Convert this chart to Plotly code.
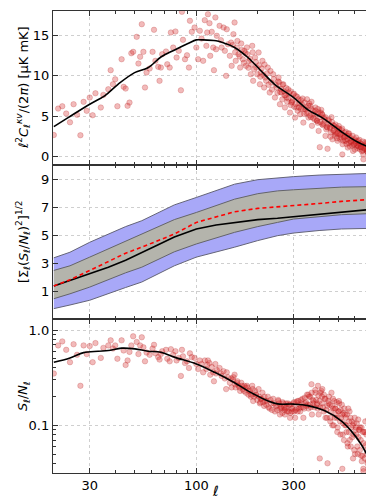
import plotly.graph_objects as go
from plotly.subplots import make_subplots

# multipoles of the scattered points (shared by top and bottom panel)
ell_pts = [20, 21, 22, 23, 24, 25, 26, 27, 28, 29, 30, 31, 32, 34, 35, 37, 38, 39, 40, 41,
           43, 44, 45, 46, 47, 48, 49, 51, 52, 53, 54, 55, 56, 57, 59, 61, 62, 63, 65, 66,
           67, 68, 71, 72, 74, 75, 77, 79, 80, 82, 84, 85, 86, 88, 90, 92, 93, 95, 98, 100,
           102, 104, 106, 108, 110, 112, 113, 114, 116, 117, 119, 121, 122, 124, 125, 126, 130, 132, 133, 136,
           138, 140, 141, 143, 146, 148, 149, 152, 154, 156, 158, 161, 164, 166, 169, 172, 175, 178, 181, 185,
           188, 190, 194, 197, 202, 205, 207, 211, 215, 218, 224, 229, 233, 238, 243, 248, 253, 257, 262, 267,
           272, 277, 282, 288, 293, 299, 305, 311, 317, 323, 329, 335, 342, 349, 355, 362, 369, 376, 384, 391,
           398, 406, 414, 422, 430, 439, 447, 456, 465, 474, 483, 493, 502, 512, 522, 532, 543, 553, 564, 575,
           587, 598, 610, 622, 634, 646, 659, 672, 685, 698, 712, 726, 740, 745, 748, 752,
           151, 155, 159, 163, 167, 171, 174, 177, 180, 183, 186, 189, 192, 196, 199, 203, 206, 209, 213, 216,
           220, 222, 226, 231, 235, 240, 245, 250, 255, 260, 264, 269, 274, 279, 285, 290, 296, 302, 308, 314,
           320, 326, 332, 338, 345, 352, 358, 365, 372, 380, 387, 394, 402, 410, 418, 426, 434, 443, 452, 460,
           470, 478, 488, 497, 507, 517, 527, 537, 548, 559, 570, 581, 592, 604, 616, 628, 640, 653, 665, 678,
           691, 705, 719, 733, 744, 750, 403, 440, 520, 660, 367, 395, 415,
           455, 468, 480, 490, 500, 510, 525, 535, 545, 556, 566, 578, 590, 600, 612, 624, 636, 648, 661, 674,
           688, 700, 710, 722, 736, 747, 751,
           252, 258, 265, 271, 276, 283, 289, 295, 301, 307, 313, 319, 326, 333, 340, 347, 354, 361, 368, 375,
           383, 390, 397, 405, 413, 421, 429, 437, 445, 454, 463, 472, 481, 491, 500, 509, 519, 530, 540, 551,
           561, 572, 584, 595, 607, 619, 631, 643, 656, 669, 682, 695, 708, 722, 738]

cl_pts = [2.7, 5.96, 6.25, 5.35, 4.27, 6.5, 5.19, 2.67, 6.79, 5.68, 7.32, 5.14, 7.85, 6.09, 7.65, 8.35, 10.7, 8.96, 9.58, 6.25,
          12.05, 8.64, 8.43, 6.3, 6.7, 12.79, 12.96, 14.81, 11.52, 12.35, 16.37, 12.96, 8.56, 10.41, 10.9, 12.96, 15.68, 11.85, 11.11, 9.38,
          11.02, 12.67, 13.0, 11.43, 11.02, 15.35, 13.49, 15.47, 12.26, 13.09, 8.22, 17.9, 14.44, 12.05, 12.54, 11.02, 16.79, 15.43, 15.96, 13.49,
          12.05, 15.56, 14.6, 11.85, 16.87, 13.7, 15.35, 17.6, 16.5, 12.47, 15.43, 13.49, 10.7, 17.2, 13.28, 14.94, 16.17, 14.4, 13.49, 15.96,
          13.09, 10.0, 15.75, 13.9, 12.47, 14.1, 11.23, 15.14, 16.58, 11.85, 13.49, 12.67, 11.02, 13.99, 12.05, 13.09, 11.23, 12.67, 11.85, 10.2,
          13.7, 9.38, 12.26, 11.02, 12.88, 8.96, 10.41, 11.85, 8.56, 9.79, 11.02, 7.94, 9.17, 10.2, 7.32, 8.56, 9.79, 6.5, 7.94, 8.96,
          6.09, 7.32, 8.35, 5.47, 6.7, 7.73, 4.85, 6.09, 7.11, 5.26, 6.5, 4.23, 5.88, 7.11, 4.85, 6.3, 3.83, 5.26, 6.09, 4.44,
          3.21, 5.47, 4.03, 4.85, 2.59, 3.62, 4.44, 3.0, 2.17, 3.83, 2.79, 1.98, 3.41, 2.38, 1.56, 3.0, 1.98, 1.15, 2.59, 1.77,
          0.74, 2.17, 1.36, 1.98, 0.94, 1.56, 0.32, 1.36, 0.74, 1.77, -0.09, 1.15, 0.53, 1.56, 0.32, 0.94,
          13.8, 12.9, 14.3, 12.4, 13.2, 11.6, 12.8, 13.5, 11.0, 12.1, 11.4, 12.9, 10.8, 11.7, 10.2, 11.3, 9.9, 10.9, 10.1, 11.4,
          9.4, 10.3, 8.9, 10.6, 8.3, 9.6, 8.9, 7.9, 9.2, 8.4, 7.1, 8.1, 7.6, 6.8, 7.9, 6.4, 7.0, 6.2, 7.5, 5.7,
          6.6, 5.9, 7.2, 5.3, 6.1, 5.5, 6.6, 4.9, 5.7, 4.6, 5.3, 4.2, 4.9, 5.8, 3.9, 4.6, 3.4, 4.1, 3.7, 4.9,
          3.2, 2.6, 3.6, 2.9, 2.2, 3.3, 2.7, 2.0, 2.6, 1.7, 2.3, 1.4, 2.0, 1.7, 1.1, 1.6, 1.2, 0.8, 1.4, 1.0,
          0.6, 1.2, 0.9, 1.3, 0.7, 1.1, 1.2, 1.0, 0.3, -0.3, 6.8, 5.9, 5.2,
          2.5, 3.9, 3.0, 2.3, 3.5, 2.8, 2.0, 2.5, 1.6, 2.9, 1.3, 2.0, 1.5, 0.9, 1.9, 1.3, 1.7, 0.7, 1.1, 1.8,
          0.9, 0.4, 1.5, 0.6, 1.0, 1.9, 0.2,
          9.3, 8.0, 8.9, 7.6, 8.5, 7.2, 8.1, 6.8, 7.8, 6.5, 7.4, 6.1, 7.0, 5.9, 6.7, 5.4, 6.3, 5.1, 5.9, 4.8,
          5.7, 4.5, 5.5, 4.3, 5.3, 4.1, 4.9, 3.7, 4.6, 3.5, 4.3, 3.3, 4.0, 2.9, 3.8, 2.7, 3.5, 2.4, 3.1, 2.2,
          2.9, 1.9, 2.6, 1.6, 2.4, 1.4, 2.1, 1.2, 1.9, 1.0, 1.7, 0.8, 1.6, 0.7, 1.4]

sn_pts = [0.35, 0.69, 0.76, 0.62, 0.46, 0.71, 0.55, 0.26, 0.69, 0.56, 0.68, 0.46, 0.73, 0.51, 0.65, 0.69, 0.78, 0.64, 0.69, 0.50,
          0.78, 0.61, 0.43, 0.48, 0.59, 0.69, 0.86, 0.75, 0.56, 0.69, 0.84, 0.66, 0.47, 0.58, 0.55, 0.64, 0.70, 0.57, 0.52, 0.49,
          0.56, 0.60, 0.62, 0.50, 0.47, 0.63, 0.55, 0.60, 0.48, 0.51, 0.33, 0.62, 0.53, 0.45, 0.47, 0.40, 0.57, 0.52, 0.51, 0.44,
          0.39, 0.48, 0.44, 0.36, 0.48, 0.39, 0.43, 0.48, 0.45, 0.34, 0.41, 0.36, 0.29, 0.44, 0.35, 0.38, 0.40, 0.35, 0.33, 0.37,
          0.31, 0.24, 0.36, 0.32, 0.28, 0.31, 0.25, 0.32, 0.34, 0.25, 0.28, 0.26, 0.23, 0.28, 0.24, 0.26, 0.22, 0.25, 0.23, 0.20,
          0.26, 0.18, 0.23, 0.21, 0.24, 0.17, 0.19, 0.22, 0.16, 0.18, 0.20, 0.15, 0.17, 0.19, 0.14, 0.16, 0.18, 0.13, 0.15, 0.17,
          0.13, 0.15, 0.17, 0.12, 0.15, 0.17, 0.12, 0.15, 0.18, 0.14, 0.17, 0.12, 0.17, 0.21, 0.15, 0.20, 0.13, 0.18, 0.22, 0.17,
          0.13, 0.22, 0.17, 0.21, 0.12, 0.16, 0.20, 0.14, 0.10, 0.18, 0.13, 0.095, 0.17, 0.12, 0.08, 0.15, 0.10, 0.06, 0.14, 0.095,
          0.045, 0.12, 0.08, 0.115, 0.055, 0.095, 0.035, 0.085, 0.05, 0.115, 0.033, 0.075, 0.042, 0.10, 0.034, 0.065,
          0.30, 0.27, 0.29, 0.25, 0.26, 0.23, 0.25, 0.26, 0.21, 0.23, 0.21, 0.24, 0.20, 0.21, 0.185, 0.20, 0.175, 0.19, 0.175, 0.20,
          0.165, 0.18, 0.155, 0.185, 0.145, 0.17, 0.16, 0.145, 0.17, 0.155, 0.135, 0.155, 0.15, 0.14, 0.165, 0.135, 0.15, 0.14, 0.175, 0.14,
          0.165, 0.155, 0.19, 0.15, 0.175, 0.165, 0.20, 0.155, 0.185, 0.155, 0.185, 0.15, 0.18, 0.23, 0.155, 0.19, 0.145, 0.18, 0.165, 0.22,
          0.15, 0.12, 0.175, 0.14, 0.11, 0.165, 0.135, 0.10, 0.13, 0.085, 0.12, 0.075, 0.105, 0.09, 0.06, 0.09, 0.07, 0.048, 0.085, 0.062,
          0.04, 0.08, 0.06, 0.09, 0.05, 0.075, 0.045, 0.04, 0.035, 0.033, 0.27, 0.26, 0.24,
          0.12, 0.19, 0.15, 0.12, 0.18, 0.145, 0.105, 0.13, 0.085, 0.15, 0.07, 0.11, 0.08, 0.05, 0.105, 0.075, 0.095, 0.042, 0.065, 0.11,
          0.055, 0.036, 0.09, 0.04, 0.062, 0.12, 0.034,
          0.185, 0.15, 0.175, 0.145, 0.17, 0.14, 0.165, 0.14, 0.175, 0.145, 0.18, 0.15, 0.185, 0.155, 0.195, 0.16, 0.21, 0.165, 0.22, 0.17,
          0.235, 0.165, 0.205, 0.155, 0.2, 0.14, 0.19, 0.12, 0.17, 0.11, 0.16, 0.10, 0.15, 0.085, 0.14, 0.08, 0.13, 0.07, 0.12, 0.065,
          0.11, 0.06, 0.10, 0.055, 0.095, 0.05, 0.09, 0.048, 0.085, 0.045, 0.08, 0.042, 0.075, 0.04, 0.07]

# smooth curves
ell_cl = [20, 23.5, 30, 35.5, 41.3, 49.8, 57.9, 67.3, 78.3, 91, 100, 106, 125, 138, 154, 179, 208, 242, 300, 353, 410, 450, 515, 621, 750]
cl_line = [3.74, 4.85, 6.5, 7.53, 8.96, 10.4, 11.0, 12.35, 13.2, 13.99, 14.44, 14.44, 14.32, 14.0, 13.5, 12.26, 10.6, 8.96, 7.32, 5.8, 4.9, 4.2, 3.1, 1.8, 0.94]

ell_sn = [20, 24, 28, 33, 37, 43, 50, 58, 67, 78, 100, 123, 154, 179, 225, 250, 300, 353, 427, 515, 576, 644, 735]
sn_line = [0.46, 0.51, 0.58, 0.6, 0.61, 0.646, 0.635, 0.6, 0.586, 0.52, 0.44, 0.36, 0.28, 0.23, 0.18, 0.168, 0.167, 0.161, 0.142, 0.111, 0.087, 0.063, 0.037]

# cumulative S/N, bands and curves
ell_cum = [20, 24, 30, 37, 45, 54, 65, 78, 100, 125, 154, 200, 250, 300, 400, 515, 750]
blue_hi = [3.37, 3.77, 4.48, 5.07, 5.6, 6.02, 6.6, 7.15, 7.68, 8.2, 8.63, 8.95, 9.1, 9.17, 9.28, 9.34, 9.41]
gray_hi = [2.47, 2.8, 3.42, 4.0, 4.55, 5.07, 5.6, 6.1, 6.61, 7.1, 7.56, 7.95, 8.15, 8.23, 8.35, 8.42, 8.46]
cum_black = [1.36, 1.75, 2.23, 2.7, 3.2, 3.77, 4.3, 4.85, 5.43, 5.72, 5.9, 6.1, 6.2, 6.31, 6.5, 6.66, 6.85]
cum_red = [1.36, 1.8, 2.47, 3.1, 3.7, 4.13, 4.6, 5.07, 5.9, 6.3, 6.66, 6.9, 7.0, 7.09, 7.25, 7.4, 7.56]
gray_lo = [0.45, 0.8, 1.28, 1.8, 2.3, 2.7, 3.25, 3.8, 4.36, 4.8, 5.19, 5.6, 5.9, 6.14, 6.32, 6.45, 6.54]
blue_lo = [-0.26, 0.0, 0.34, 0.8, 1.25, 1.64, 2.2, 2.8, 3.42, 3.8, 4.13, 4.6, 4.95, 5.14, 5.32, 5.43, 5.48]

x_ticks = [30, 100, 300]
x_minor = [20, 40, 50, 60, 70, 80, 90, 200, 400, 500, 600, 700]

fig = make_subplots(rows=3, cols=1, shared_xaxes=True, vertical_spacing=0)

pt_marker = dict(size=5.5, color='rgba(214,40,40,0.32)', line=dict(color='rgba(170,20,20,0.35)', width=0.6))

# top panel
fig.add_trace(go.Scatter(x=ell_pts, y=cl_pts, mode='markers', marker=pt_marker), row=1, col=1)
fig.add_trace(go.Scatter(x=ell_cl, y=cl_line, mode='lines', line=dict(color='black', width=1.6, shape='spline')), row=1, col=1)

# middle panel
fig.add_trace(go.Scatter(x=ell_cum + ell_cum[::-1], y=blue_hi + blue_lo[::-1], fill='toself',
                         fillcolor='rgb(168,168,248)', mode='lines',
                         line=dict(color='rgb(100,100,120)', width=1)), row=2, col=1)
fig.add_trace(go.Scatter(x=ell_cum + ell_cum[::-1], y=gray_hi + gray_lo[::-1], fill='toself',
                         fillcolor='rgb(180,180,172)', mode='lines',
                         line=dict(color='rgb(100,100,105)', width=1)), row=2, col=1)
fig.add_trace(go.Scatter(x=ell_cum, y=cum_black, mode='lines', line=dict(color='black', width=1.6)), row=2, col=1)
fig.add_trace(go.Scatter(x=ell_cum, y=cum_red, mode='lines', line=dict(color='red', width=1.6, dash='4px,3px')), row=2, col=1)

# bottom panel
fig.add_trace(go.Scatter(x=ell_pts, y=sn_pts, mode='markers', marker=pt_marker), row=3, col=1)
fig.add_trace(go.Scatter(x=ell_sn, y=sn_line, mode='lines', line=dict(color='black', width=1.6, shape='spline')), row=3, col=1)

axis_style = dict(showline=True, linecolor='#333333', linewidth=1.3, mirror='ticks',
                  ticks='inside', ticklen=5, tickcolor='#333333',
                  showgrid=True, gridcolor='#cfcfcf', griddash='dot', gridwidth=0.8,
                  zeroline=False, tickfont=dict(family='DejaVu Sans', size=13, color='black'))

for r in [1, 2, 3]:
    fig.update_xaxes(type='log', range=[1.297, 2.891], tickvals=x_ticks,
                     ticktext=[str(v) for v in x_ticks], showticklabels=(r == 3),
                     minor=dict(tickvals=x_minor, ticks='inside', ticklen=3, tickcolor='#333333', showgrid=False),
                     row=r, col=1, **axis_style)

fig.update_yaxes(range=[-1, 18], tickvals=[0, 5, 10, 15], row=1, col=1, **axis_style)
fig.update_yaxes(range=[-1, 10], tickvals=[1, 3, 5, 7, 9], row=2, col=1, **axis_style)
fig.update_yaxes(type='log', range=[-1.5, 0.116], tickvals=[0.1, 1.0], ticktext=['0.1', '1.0'],
                 minor=dict(tickvals=[0.04, 0.05, 0.06, 0.07, 0.08, 0.09, 0.2, 0.3, 0.4, 0.5, 0.6, 0.7, 0.8, 0.9],
                            ticks='inside', ticklen=3, tickcolor='#333333', showgrid=False),
                 row=3, col=1, **axis_style)

# x label
fig.add_annotation(text='<i>ℓ</i>', xref='paper', yref='paper', x=0.5, y=-0.04,
                   showarrow=False, xanchor='center', yanchor='middle',
                   font=dict(family='DejaVu Sans', size=14, color='black'))

# y labels as rotated annotations
ylabels = [
    ('<i>ℓ</i><sup>2</sup><i>C</i><sub><i>ℓ</i></sub><sup><i>κv</i></sup>/(2<i>π</i>) [μK mK]', 5 / 6),
    ('[Σ<sub><i>ℓ</i></sub>(<i>S</i><sub><i>ℓ</i></sub>/<i>N</i><sub><i>ℓ</i></sub>)<sup>2</sup>]<sup>1/2</sup>', 0.5),
    ('<i>S</i><sub><i>ℓ</i></sub>/<i>N</i><sub><i>ℓ</i></sub>', 1 / 6),
]
for txt, yy in ylabels:
    fig.add_annotation(text=txt, xref='paper', yref='paper', x=-0.092, y=yy, textangle=-90,
                       showarrow=False, xanchor='center', yanchor='middle',
                       font=dict(family='DejaVu Sans', size=13, color='black'))

fig.update_layout(width=374, height=498, margin=dict(l=45, r=4, t=3, b=33),
                  plot_bgcolor='white', paper_bgcolor='white', showlegend=False)

fig.write_html('out.html')
